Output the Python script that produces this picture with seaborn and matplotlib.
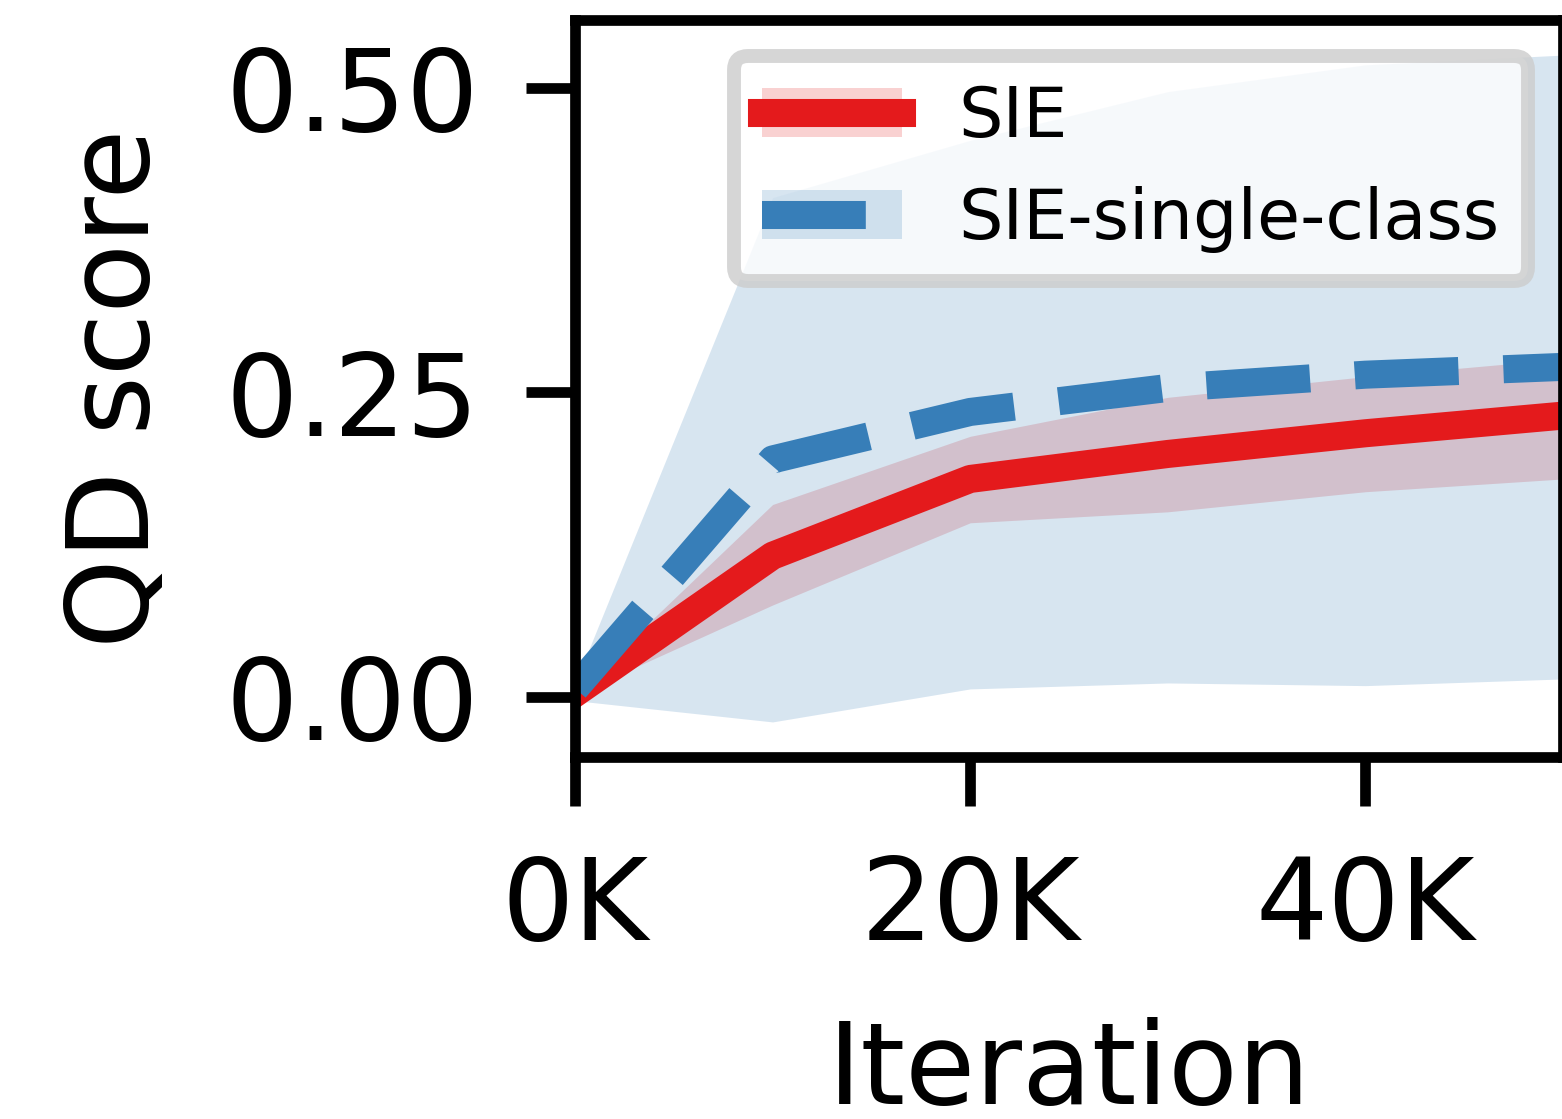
import pandas as pd
import matplotlib
matplotlib.use("Agg")
import matplotlib.pyplot as plt
from matplotlib.patches import Patch
from matplotlib.ticker import FuncFormatter
import seaborn as sns

# values
iterations = [0, 10000, 20000, 30000, 40000, 50000]
methods = ["SIE", "SIE-single-class"]

sie_mean = [0.003, 0.116, 0.179, 0.1995, 0.2165, 0.231]
sie_low = [0.002, 0.0755, 0.143, 0.152, 0.1685, 0.179]
sie_high = [0.003, 0.158, 0.214, 0.246, 0.263, 0.2775]

single_mean = [0.007, 0.195, 0.234, 0.2537, 0.2646, 0.271]
single_low = [-0.003, -0.0205, 0.0066, 0.0115, 0.0093, 0.0148]
single_high = [0.011, 0.41, 0.457, 0.497, 0.519, 0.527]

colors = {"SIE": "#e41a1c", "SIE-single-class": "#377eb8"}

df = pd.DataFrame({
    "iteration": iterations * 2,
    "qd": sie_mean + single_mean,
    "method": [methods[0]] * len(iterations) + [methods[1]] * len(iterations),
})

sns.set_style("ticks", rc={
    "axes.edgecolor": "black",
    "xtick.color": "black",
    "ytick.color": "black",
    "text.color": "black",
    "axes.labelcolor": "black",
})
plt.rcParams["font.family"] = ["DejaVu Sans"]
plt.rcParams.update({
    "axes.linewidth": 7.7,
    "xtick.major.size": 35,
    "ytick.major.size": 35,
    "xtick.major.width": 7.7,
    "ytick.major.width": 7.7,
    "xtick.major.pad": 34,
    "ytick.major.pad": 34,
    "xtick.labelsize": 82,
    "ytick.labelsize": 82,
    "axes.labelsize": 82,
    "axes.labelpad": 38,
    "lines.solid_capstyle": "projecting",
})

fig = plt.figure(figsize=(15.62, 11.19), dpi=100)
ax = fig.add_axes([575 / 1562, 362 / 1119, 988 / 1562, 737 / 1119])

# bands first, lines on top
ax.fill_between(iterations, sie_low, sie_high, color=colors["SIE"], alpha=0.2, lw=0)
ax.fill_between(iterations, single_low, single_high, color=colors["SIE-single-class"], alpha=0.2, lw=0)

sns.lineplot(data=df, x="iteration", y="qd", hue="method", style="method",
             palette=colors, dashes={"SIE": "", "SIE-single-class": (3.7, 1.6)},
             linewidth=20.2, legend=False, ax=ax)
for line in ax.lines:
    line.set_solid_capstyle("projecting")

ax.set_xlim(0, 50000)
ax.set_ylim(-0.0493, 0.5558)
ax.set_xticks([0, 20000, 40000])
ax.set_yticks([0.0, 0.25, 0.5])
ax.xaxis.set_major_formatter(FuncFormatter(lambda v, p: f"{int(v / 1000)}K"))
ax.yaxis.set_major_formatter(FuncFormatter(lambda v, p: f"{v:.2f}"))
ax.set_xlabel("Iteration")
ax.set_ylabel("QD score")

handles = [
    (Patch(facecolor=colors[m], alpha=0.2, lw=0), ax.lines[i])
    for i, m in enumerate(methods)
]
leg = ax.legend(handles, methods, loc="upper left",
                bbox_to_anchor=((734 - 575) / 988, (757 - 56) / 737),
                borderaxespad=0, fontsize=50.5, framealpha=0.8)
leg.get_frame().set_linewidth(10)
leg.get_frame().set_edgecolor("0.8")

fig.savefig("out.png", dpi=100)
